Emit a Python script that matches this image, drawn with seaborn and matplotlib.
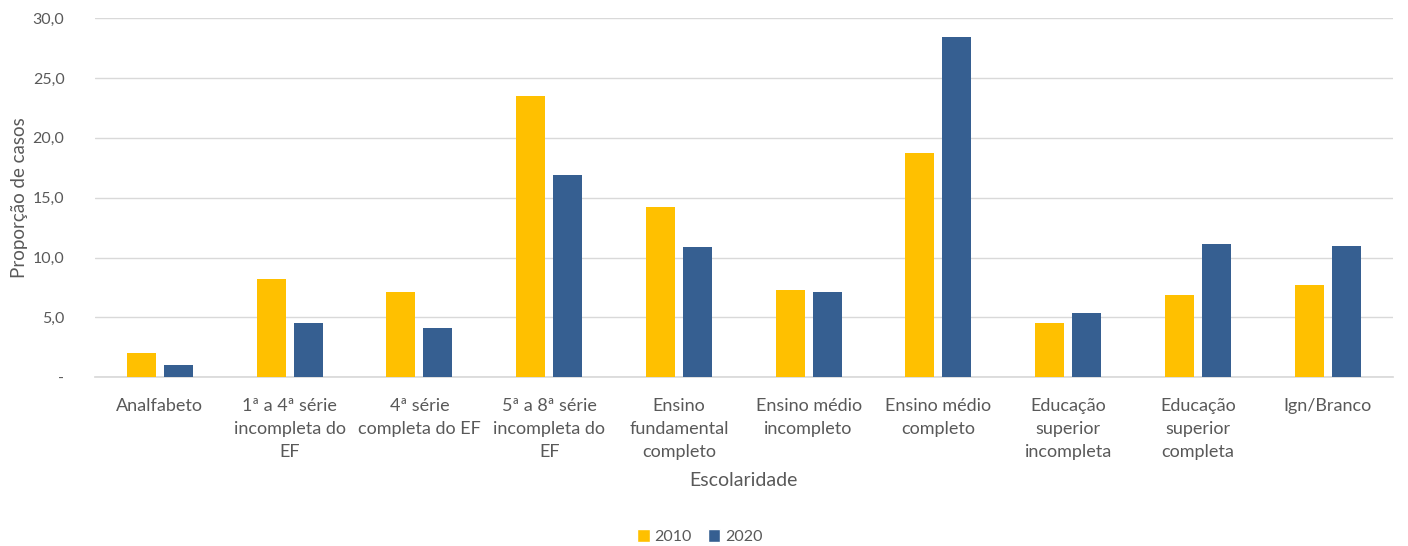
import matplotlib
matplotlib.use("Agg")
import matplotlib.pyplot as plt
import seaborn as sns
import pandas as pd
from matplotlib.ticker import FuncFormatter
from matplotlib.patches import Patch

categorias = [
    "Analfabeto",
    "1ª a 4ª série\nincompleta do\nEF",
    "4ª série\ncompleta do EF",
    "5ª a 8ª série\nincompleta do\nEF",
    "Ensino\nfundamental\ncompleto",
    "Ensino médio\nincompleto",
    "Ensino médio\ncompleto",
    "Educação\nsuperior\nincompleta",
    "Educação\nsuperior\ncompleta",
    "Ign/Branco",
]
valores_2010 = [2.0, 8.2, 7.1, 23.5, 14.2, 7.3, 18.7, 4.5, 6.9, 7.7]
valores_2020 = [1.0, 4.5, 4.1, 16.9, 10.9, 7.1, 28.4, 5.4, 11.1, 11.0]
anos = ["2010", "2020"]
cores = {"2010": "#FFC000", "2020": "#365F91"}

df = pd.DataFrame({
    "Escolaridade": categorias * 2,
    "Ano": [anos[0]] * len(categorias) + [anos[1]] * len(categorias),
    "Proporção": valores_2010 + valores_2020,
})

sns.set_theme(style="white")
plt.rcParams["font.family"] = ["Lato", "DejaVu Sans"]
texto = "#595959"

fig = plt.figure(figsize=(14.08, 5.46), dpi=100)
ax = fig.add_axes([0.0675, 0.309, 0.9215, 0.658])

sns.barplot(data=df, x="Escolaridade", y="Proporção", hue="Ano",
            palette=cores, width=0.57, gap=0.22, ax=ax, legend=False,
            saturation=1, edgecolor="none", zorder=3)

ax.set_ylim(0, 30)
ax.set_yticks([0, 5, 10, 15, 20, 25, 30])
ax.yaxis.set_major_formatter(FuncFormatter(
    lambda v, p: "-" if v == 0 else f"{v:.1f}".replace(".", ",")))
ax.grid(axis="y", color="#D9D9D9", linewidth=1, zorder=0)
for s in ["top", "right", "left"]:
    ax.spines[s].set_visible(False)
ax.spines["bottom"].set_color("#D9D9D9")
ax.tick_params(axis="both", length=0, colors=texto)
ax.tick_params(axis="y", labelsize=11.5, pad=22)
ax.tick_params(axis="x", labelsize=13, pad=15)
for lbl in ax.get_xticklabels():
    lbl.set_multialignment("center")
    lbl.set_linespacing(1.55)

ax.set_xlabel("Escolaridade", color=texto, fontsize=14, labelpad=8)
ax.set_ylabel("Proporção de casos", color=texto, fontsize=13.5, labelpad=3)

handles = [Patch(facecolor=cores[a], label=a) for a in anos]
fig.legend(handles=handles, loc="center", bbox_to_anchor=(0.497, 0.017),
           ncol=2, frameon=False, handlelength=0.8, handleheight=0.8,
           handletextpad=0.3, columnspacing=1.0, labelcolor=texto,
           prop={"size": 11.5})

fig.savefig("out.png", dpi=100, facecolor="white")
